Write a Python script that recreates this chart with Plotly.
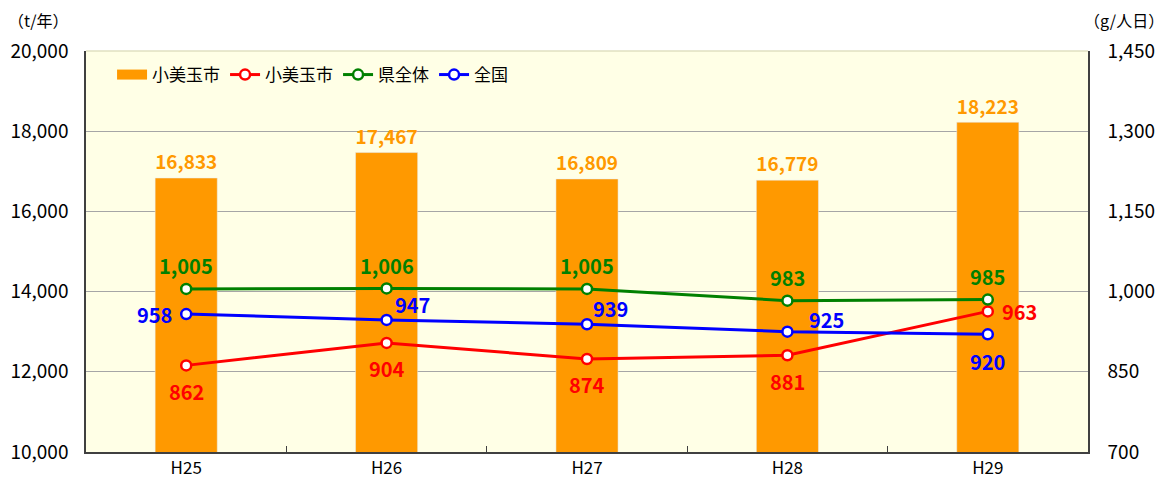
import plotly.graph_objects as go

years = ["H25", "H26", "H27", "H28", "H29"]
city_total = [16833, 17467, 16809, 16779, 18223]
city_per = [862, 904, 874, 881, 963]
pref_per = [1005, 1006, 1005, 983, 985]
nation_per = [958, 947, 939, 925, 920]

left_ticks = [10000, 12000, 14000, 16000, 18000, 20000]
right_ticks = [700, 850, 1000, 1150, 1300, 1450]

FONT = "Noto Sans CJK JP"
ORANGE = "#FF9900"

fig = go.Figure()
fig.add_trace(go.Bar(
    x=years, y=city_total, name="小美玉市", marker_color=ORANGE, width=0.31,
    text=[f"{v:,}" for v in city_total], textposition="outside",
    textfont=dict(color=ORANGE, size=20, family=FONT, weight="bold"),
    cliponaxis=False, showlegend=False,
))
# legend-only entry giving the bar series a wide rectangular key
fig.add_trace(go.Scatter(
    x=[None], y=[None], name="小美玉市", mode="lines",
    line=dict(color=ORANGE, width=10),
))

annots = []

def line(vals, name, color, offsets):
    fig.add_trace(go.Scatter(
        x=years, y=vals, name=name, yaxis="y2", mode="lines+markers",
        line=dict(color=color, width=3),
        marker=dict(size=10, color="white", line=dict(color=color, width=2.5)),
        cliponaxis=False,
    ))
    for xv, yv, (dx, dy, xa) in zip(years, vals, offsets):
        annots.append(dict(
            x=xv, y=yv, xref="x", yref="y2", text=f"{yv:,}", showarrow=False,
            xshift=dx, yshift=dy, xanchor=xa, yanchor="middle",
            font=dict(color=color, size=20, family=FONT, weight="bold"),
        ))

line(city_per, "小美玉市", "#FF0000",
     [(0, -26, "center")] * 4 + [(12, 0, "left")])
line(pref_per, "県全体", "#008000", [(0, 23, "center")] * 5)
line(nation_per, "全国", "#0000FF",
     [(-12, 0, "right"), (6, 15, "left"), (4, 16, "left"), (20, 12, "left"), (0, -27, "center")])

annots += [
    dict(text="（t/年）", xref="paper", yref="paper", x=-0.08, y=1.077,
         xanchor="left", yanchor="middle", showarrow=False, font=dict(size=16)),
    dict(text="（g/人日）", xref="paper", yref="paper", x=1.078, y=1.077,
         xanchor="right", yanchor="middle", showarrow=False, font=dict(size=16)),
]

fig.update_layout(
    width=1161, height=474,
    margin=dict(l=78, r=81, t=43, b=30, autoexpand=False),
    paper_bgcolor="white", plot_bgcolor="#FFFFE6",
    font=dict(family=FONT, size=17, color="#000000"),
    showlegend=True,
    legend=dict(orientation="h", x=0.026, y=0.985, xanchor="left", yanchor="top",
                bgcolor="rgba(0,0,0,0)", font=dict(size=17), itemwidth=30,
                tracegroupgap=0),
    bargap=0.69,
    xaxis=dict(type="category", showgrid=False, ticks="inside", tickson="boundaries",
               ticklen=6, tickcolor="#404040", showline=True, linecolor="#404040",
               linewidth=1.5, mirror=False, tickfont=dict(size=17)),
    yaxis=dict(range=[10000, 20000], tickvals=left_ticks, tickformat=",",
               showgrid=True, gridcolor="#A6A6A6", gridwidth=1,
               showline=True, linecolor="#404040", linewidth=1.5,
               ticks="", zeroline=False, tickfont=dict(size=19),
               ticklabelstandoff=12),
    yaxis2=dict(range=[700, 1450], tickvals=right_ticks, tickformat=",",
                overlaying="y", side="right", showgrid=False,
                showline=True, linecolor="#404040", linewidth=1.5,
                zeroline=False, tickfont=dict(size=19), ticklabelstandoff=14),
    annotations=annots,
)
fig.add_shape(type="line", xref="paper", yref="paper", x0=0, x1=1, y0=1, y1=1,
              line=dict(color="#E0E0C0", width=1.5))

fig.write_html("out.html")
